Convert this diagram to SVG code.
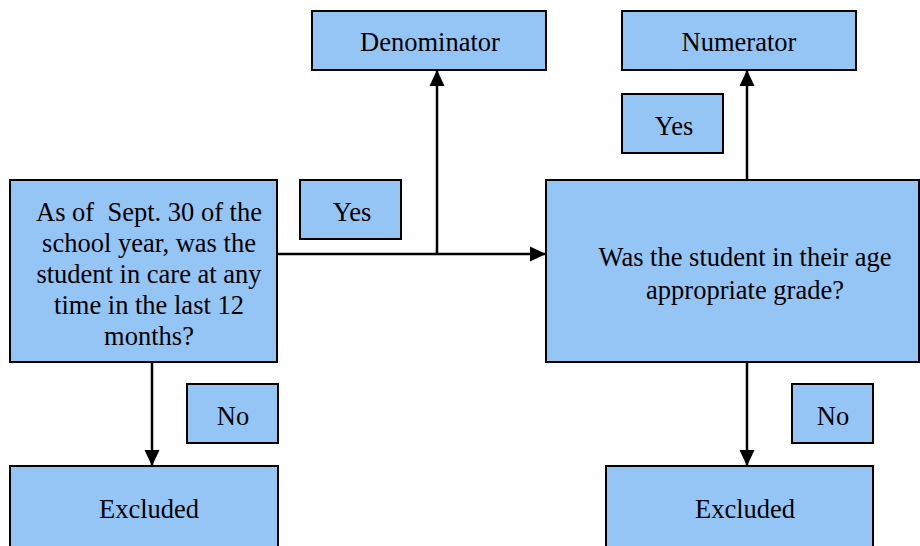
<svg xmlns="http://www.w3.org/2000/svg" width="920" height="546" viewBox="0 0 920 546">
<style>
.box{fill:#94c5f5;stroke:#000;stroke-width:2}
.t{font-family:"Liberation Serif","Times New Roman",serif;font-size:26.5px;fill:#000;text-anchor:middle;white-space:pre}
.c{stroke:#000;stroke-width:2.5;fill:none}
</style>
<defs>
<marker id="ah2" markerWidth="16" markerHeight="16" refX="15" refY="8" orient="auto" markerUnits="userSpaceOnUse" viewBox="0 0 16 16">
<path d="M0,0.5 L16,8 L0,15.5 z" fill="#000"/>
</marker>
</defs>
<g id="connectors">
<path class="c" d="M277,254 H545" marker-end="url(#ah2)"/>
<path class="c" d="M437,254 V71" marker-end="url(#ah2)"/>
<path class="c" d="M747,186 V71" marker-end="url(#ah2)"/>
<path class="c" d="M152,362 V465" marker-end="url(#ah2)"/>
<path class="c" d="M747,362 V465" marker-end="url(#ah2)"/>
</g>
<g id="q1"><rect class="box" x="10" y="180" width="267" height="182"/>
<text class="t" x="149" y="221" xml:space="preserve">As of  Sept. 30 of the</text>
<text class="t" x="149" y="252">school year, was the</text>
<text class="t" x="149" y="283">student in care at any</text>
<text class="t" x="149" y="314">time in the last 12</text>
<text class="t" x="149" y="345">months?</text></g>
<g id="yes1"><rect class="box" x="300" y="180" width="101" height="59"/><text class="t" x="352" y="221">Yes</text></g>
<g id="denominator"><rect class="box" x="312" y="11" width="234" height="59"/><text class="t" x="430" y="51">Denominator</text></g>
<g id="numerator"><rect class="box" x="622" y="11" width="234" height="59"/><text class="t" x="739" y="51">Numerator</text></g>
<g id="yes2"><rect class="box" x="622" y="94" width="101" height="59"/><text class="t" x="674" y="135">Yes</text></g>
<g id="q2"><rect class="box" x="546" y="180" width="373" height="182"/>
<text class="t" x="745" y="266">Was the student in their age</text>
<text class="t" x="745" y="299">appropriate grade?</text></g>
<g id="no1"><rect class="box" x="187" y="384" width="91" height="59"/><text class="t" x="233" y="425">No</text></g>
<g id="no2"><rect class="box" x="792" y="384" width="81" height="59"/><text class="t" x="833" y="425">No</text></g>
<g id="excluded1"><rect class="box" x="10" y="466" width="268" height="90"/><text class="t" x="149" y="518">Excluded</text></g>
<g id="excluded2"><rect class="box" x="606" y="466" width="267" height="90"/><text class="t" x="745" y="518">Excluded</text></g>
</svg>
